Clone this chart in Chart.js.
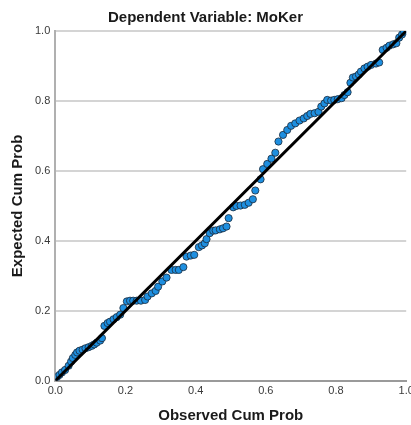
<!DOCTYPE html>
<html>
<head>
<meta charset="utf-8">
<script src="https://cdn.jsdelivr.net/npm/chart.js@4/dist/chart.umd.min.js"></script>
<style>
html,body{margin:0;padding:0;background:#fff;overflow:hidden;}
#wrap{width:411px;height:425px;position:relative;}
</style>
</head>
<body>
<div id="wrap"><canvas id="c"></canvas></div>
<script>
const chartTitle = "Dependent Variable: MoKer";
const xTitle = "Observed Cum Prob";
const yTitle = "Expected Cum Prob";
const tickValues = [0.0, 0.2, 0.4, 0.6, 0.8, 1.0];

const observedCumProb = [
0.005,0.012,0.019,0.028,0.038,0.045,0.050,0.057,0.062,0.069,
0.078,0.086,0.095,0.104,0.111,0.118,0.128,0.133,0.140,0.149,
0.156,0.166,0.175,0.185,0.194,0.204,0.213,0.222,0.232,0.244,
0.256,0.263,0.275,0.286,0.293,0.305,0.317,0.331,0.343,0.352,
0.365,0.374,0.386,0.396,0.409,0.418,0.426,0.431,0.440,0.450,
0.457,0.469,0.478,0.488,0.494,0.507,0.516,0.528,0.540,0.551,
0.563,0.570,0.585,0.592,0.604,0.616,0.627,0.636,0.649,0.661,
0.672,0.684,0.696,0.708,0.718,0.727,0.739,0.750,0.758,0.767,
0.775,0.786,0.795,0.805,0.816,0.824,0.833,0.841,0.848,0.857,
0.865,0.871,0.881,0.890,0.900,0.914,0.923,0.933,0.944,0.952,
0.963,0.972,0.980,0.988,0.994
];
const expectedCumProb = [
0.011,0.017,0.024,0.031,0.043,0.055,0.065,0.074,0.081,0.086,
0.089,0.093,0.096,0.100,0.104,0.109,0.115,0.122,0.157,0.165,
0.169,0.176,0.182,0.189,0.208,0.227,0.229,0.229,0.229,0.229,
0.231,0.241,0.250,0.257,0.269,0.284,0.295,0.317,0.317,0.317,
0.325,0.355,0.358,0.360,0.382,0.387,0.393,0.405,0.422,0.429,
0.430,0.433,0.436,0.441,0.465,0.496,0.500,0.501,0.503,0.509,
0.519,0.544,0.576,0.605,0.620,0.635,0.652,0.684,0.703,0.717,
0.729,0.736,0.744,0.750,0.757,0.763,0.765,0.769,0.784,0.793,
0.803,0.801,0.803,0.805,0.808,0.817,0.825,0.852,0.867,0.870,
0.876,0.884,0.893,0.898,0.903,0.907,0.910,0.946,0.952,0.958,
0.962,0.965,0.981,0.990,0.998
];
const refLineX = [0, 1];
const refLineY = [0, 1];

const pts = observedCumProb.map((x, i) => ({x: x, y: expectedCumProb[i]}));
const linePts = refLineX.map((x, i) => ({x: x, y: refLineY[i]}));

const FONT = "'Liberation Sans', Arial, sans-serif";

new Chart(document.getElementById('c'), {
  type: 'scatter',
  data: {
    datasets: [
      {
        type: 'line',
        data: linePts,
        borderColor: '#000000',
        borderWidth: 3,
        pointRadius: 0,
        fill: false,
        order: 0
      },
      {
        data: pts,
        backgroundColor: '#1e8fe0',
        borderColor: '#1a2a3a',
        borderWidth: 0.8,
        pointRadius: 3.6,
        order: 1
      }
    ]
  },
  options: {
    responsive: true,
    maintainAspectRatio: false,
    animation: false,
    layout: { padding: { left: 0, right: 0, top: 0, bottom: 0 } },
    plugins: {
      legend: { display: false },
      tooltip: { enabled: false },
      title: {
        display: true,
        text: chartTitle,
        color: '#1a1a1a',
        font: { family: FONT, size: 15, weight: 'bold', lineHeight: 1.2 },
        padding: { top: 9, bottom: 4 }
      }
    },
    scales: {
      x: {
        type: 'linear',
        min: 0, max: 1,
        afterBuildTicks: (s) => { s.ticks = tickValues.map(v => ({value: v})); },
        afterFit: (s) => { s.paddingRight = 4; s.paddingLeft = 0; },
        ticks: {
          padding: 4,
          color: '#3a3a3a',
          font: { family: FONT, size: 11 },
          callback: (v) => Number(v).toFixed(1),
          maxRotation: 0
        },
        grid: { display: true, color: 'rgba(0,0,0,0)', drawTicks: false },
        border: { display: true, color: '#9a9a9a', width: 2 },
        title: {
          display: true,
          text: xTitle,
          color: '#1a1a1a',
          font: { family: FONT, size: 15, weight: 'bold', lineHeight: 1.2 },
          padding: { top: 5, bottom: 0 }
        }
      },
      y: {
        type: 'linear',
        min: 0, max: 1,
        afterBuildTicks: (s) => { s.ticks = tickValues.map(v => ({value: v})); },
        afterFit: (s) => { s.paddingTop = 0; s.paddingBottom = 0; },
        ticks: {
          padding: 5,
          color: '#3a3a3a',
          font: { family: FONT, size: 11 },
          callback: (v) => Number(v).toFixed(1)
        },
        grid: { display: true, color: '#d4d4d4', lineWidth: 2, drawTicks: false },
        border: { display: true, color: '#b0b0b0', width: 2 },
        title: {
          display: true,
          text: yTitle,
          color: '#1a1a1a',
          font: { family: FONT, size: 15, weight: 'bold', lineHeight: 1.2 },
          padding: { top: 9, bottom: 3 }
        }
      }
    }
  }
});
</script>
</body>
</html>
